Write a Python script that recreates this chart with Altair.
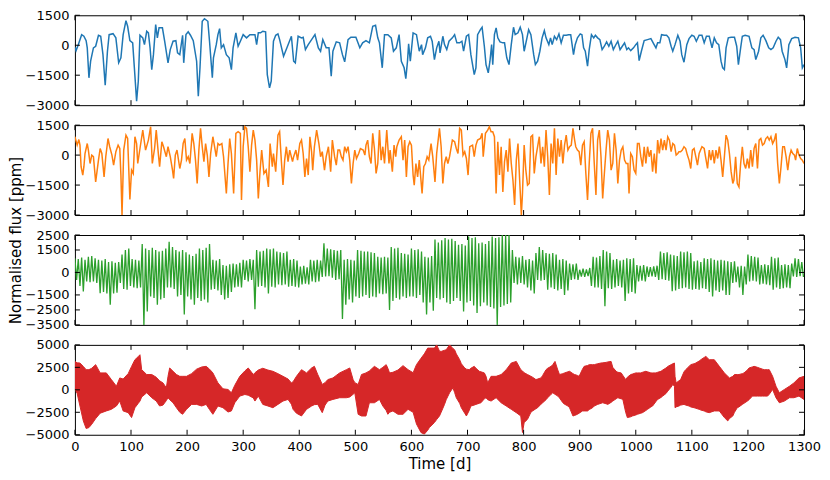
import altair as alt
import pandas as pd

# ---------------- data ----------------
t1 = [0,2,6,12,16,20,22,25,28,33,
      37,42,46,50,54,58,61,68,73,78,
      82,86,91,94,98,103,106,110,113,116,
      121,124,128,131,134,137,140,144,147,150,
      156,160,166,170,175,180,183,187,192,194,
      198,202,206,211,217,220,223,227,231,237,
      240,245,247,252,255,258,261,265,270,275,
      279,282,287,291,295,300,306,312,316,321,
      324,327,331,335,340,343,347,350,354,358,
      362,365,372,378,386,390,393,398,404,407,
      411,416,422,428,434,438,442,448,453,457,
      460,466,472,477,481,487,492,501,508,513,
      519,525,531,536,540,543,548,552,558,564,
      568,573,578,582,587,590,593,595,598,603,
      609,614,618,620,625,629,634,637,641,645,
      649,651,656,659,663,667,673,677,681,686,
      690,693,698,702,706,712,715,718,723,726,
      730,733,737,740,743,745,748,751,754,758,
      763,766,770,774,778,782,785,790,794,798,
      801,806,809,813,818,821,825,829,833,837,
      840,845,848,851,855,859,863,867,871,876,
      880,884,889,892,896,901,904,907,910,914,
      917,921,925,928,932,936,940,944,948,952,
      956,960,964,968,972,976,980,984,987,991,
      996,1000,1003,1006,1010,1015,1021,1027,1032,1036,
      1039,1043,1046,1051,1055,1059,1063,1066,1070,1075,
      1079,1082,1086,1091,1095,1100,1104,1108,1113,1118,
      1122,1126,1131,1136,1140,1144,1148,1152,1155,1158,
      1161,1165,1170,1176,1180,1183,1187,1190,1195,1202,
      1207,1211,1214,1219,1223,1227,1232,1237,1241,1245,
      1250,1254,1258,1261,1266,1269,1273,1278,1284,1290,
      1294,1297,1300]
v1 = [-100,-270,30,530,450,230,-130,-1630,-800,-130,
      -50,500,450,-470,-2000,-300,530,580,370,-880,
      -630,530,1230,950,230,120,-1130,-2800,-1800,500,
      370,30,700,620,-130,-1220,-470,1030,370,870,
      870,200,-880,-220,200,230,-380,-470,500,-880,
      530,670,500,230,-800,-2550,-1130,1200,1330,1200,
      200,-1630,-630,30,530,830,-130,30,-470,-630,
      -1220,-130,620,-50,200,530,370,530,530,530,
      30,620,620,700,670,-1470,-2130,-1800,200,500,
      570,280,-550,-130,450,-800,-880,450,370,400,
      -220,30,280,530,-130,-300,280,-130,-130,-1550,
      -300,170,120,-470,-830,280,400,400,-130,120,
      230,120,950,1000,370,120,-1130,530,530,370,
      -300,-130,530,-800,-1130,-1670,-800,70,-800,620,
      530,-300,30,-470,-130,370,450,200,-720,-130,
      200,-380,450,30,-220,200,370,530,120,120,
      200,-300,450,530,-470,-1470,-1130,530,780,900,
      -50,-970,-1380,-800,30,-970,530,870,370,170,
      120,120,-630,-970,30,900,530,620,900,530,
      -300,370,780,530,-470,-970,-800,-300,370,730,
      370,30,370,30,450,280,570,120,500,500,
      530,530,-470,30,370,570,530,-130,-300,-1050,
      -220,530,370,500,370,280,-220,-50,170,-50,
      200,-220,0,200,-220,-50,120,-220,-130,-270,
      -130,30,120,-770,-300,230,280,330,70,-130,
      120,120,530,500,500,370,-50,-300,30,500,
      200,-470,-850,30,330,500,450,200,500,500,
      120,450,450,-130,370,120,30,-800,-1130,-1220,
      -130,370,400,400,-50,-970,-130,450,500,450,
      -130,-220,-720,-300,370,500,230,-130,-220,-130,
      200,400,280,-300,-720,-1130,30,330,400,370,
      -130,-1130,-970]

t2 = [0,4,7,9,11,14,16,18,22,24,
      27,30,33,37,42,45,48,52,55,59,
      62,66,69,73,77,80,82,84,87,91,
      94,98,101,104,107,110,112,116,121,123,
      126,131,135,138,142,145,149,151,155,158,
      163,166,170,174,176,179,182,187,190,193,
      196,199,202,205,209,212,215,218,221,224,
      227,230,233,236,239,242,246,249,252,255,
      258,262,265,270,273,276,279,283,287,291,
      295,297,300,303,306,309,312,315,318,321,
      324,327,330,333,337,341,345,348,352,354,
      358,362,365,368,371,374,377,380,383,388,
      390,394,397,401,404,407,410,413,416,419,
      422,424,427,431,435,438,441,445,448,452,
      456,459,463,466,469,472,475,478,481,484,
      487,490,493,496,499,502,506,509,514,517,
      519,522,525,528,531,534,537,540,543,546,
      549,552,556,560,562,566,569,572,574,578,
      582,585,588,591,594,597,600,603,605,608,
      611,614,619,622,625,628,631,635,638,642,
      645,650,653,656,659,662,665,668,673,677,
      680,683,686,689,692,695,698,701,704,709,
      712,715,718,723,726,728,732,736,739,742,
      745,748,751,754,757,760,763,766,769,772,
      775,778,781,784,787,790,793,796,798,801,
      804,807,810,813,816,819,822,825,828,831,
      834,837,840,843,846,849,852,855,858,861,
      864,867,870,873,876,879,882,885,888,891,
      893,896,899,902,905,908,911,914,917,920,
      923,926,929,932,935,938,941,944,947,950,
      953,956,959,962,965,968,971,974,977,980,
      983,986,988,991,994,997,1000,1003,1006,1009,
      1012,1015,1018,1021,1024,1027,1030,1033,1036,1039,
      1042,1045,1048,1051,1054,1057,1060,1063,1066,1069,
      1072,1075,1077,1080,1083,1086,1089,1092,1095,1098,
      1101,1104,1107,1110,1113,1118,1122,1125,1128,1131,
      1134,1137,1140,1143,1146,1149,1152,1155,1158,1161,
      1164,1167,1170,1173,1175,1178,1181,1184,1187,1190,
      1193,1196,1199,1202,1205,1208,1211,1214,1217,1220,
      1223,1226,1229,1232,1235,1238,1241,1244,1247,1250,
      1253,1256,1259,1262,1265,1268,1271,1274,1277,1280,
      1283,1285,1288,1291,1294,1297,1300]
v2 = [920,500,780,500,-580,-1000,-580,80,580,250,
      -420,0,-80,-1340,-250,330,80,-1090,-80,830,
      420,0,-500,170,500,330,-1000,-3000,250,1000,
      830,-2220,-750,-920,920,580,-420,330,1250,830,
      250,750,1420,-420,330,1250,0,-580,670,420,
      -80,420,-80,-750,-1170,0,250,-670,-250,580,
      830,-250,-80,-420,1090,580,-250,-1420,250,1340,
      420,-330,580,0,-1090,80,920,420,-80,580,
      500,580,-80,-1920,-420,830,80,-1920,1090,1170,
      1090,-2250,420,1420,1340,420,-830,500,1250,750,
      -250,-2170,-830,250,-920,-750,-1590,580,-580,80,
      -830,1000,1170,-250,-1500,-250,420,-330,250,-330,
      -80,250,-250,580,750,80,-1090,-170,-1000,920,
      170,-750,420,1250,580,-80,170,-750,-80,420,
      -830,750,-80,-500,250,250,-80,-250,420,170,
      420,-250,-1420,-420,250,-170,80,330,250,0,
      500,750,-80,-420,1090,330,-920,-420,1250,-250,
      420,-420,1250,-420,250,-830,500,-80,420,750,
      920,-250,750,-1090,420,670,500,-1000,-1500,-420,
      -1090,-250,-1920,-580,-420,-80,-250,580,-80,-1340,
      80,1340,420,-1420,-420,-80,-420,-80,750,670,
      330,80,1340,1250,0,170,-170,-1000,420,500,
      -80,500,750,830,1090,-80,1090,1250,1420,1170,
      1170,920,-1920,670,-1000,420,-1840,-330,250,-830,
      830,-420,-1250,-2500,-250,580,-1250,-3000,-1920,500,
      -750,-1500,-1420,920,1000,-920,-80,420,920,-420,
      420,-580,1250,-80,-2000,580,-420,1340,-1000,830,
      -80,750,-420,500,1000,250,420,500,1340,750,
      420,250,170,-500,500,670,-920,-2250,-420,1090,
      1340,-420,-2000,750,1250,-80,-2170,-920,250,1250,
      750,-750,-420,1090,250,-1420,-250,250,420,-250,
      -420,-420,-1920,80,-80,-750,-920,580,580,-80,
      -580,420,-420,420,-80,250,-830,80,-920,750,
      80,830,250,750,250,920,750,170,580,500,
      0,80,170,170,250,420,330,0,-250,-670,
      250,330,-80,-500,80,420,330,-170,-670,250,
      -250,250,-420,250,-170,420,-250,-1090,-80,1000,
      750,80,-830,-1420,-1250,-80,-1420,-1590,-420,420,
      -420,-670,-170,-670,250,-580,330,580,-670,750,
      830,500,580,830,920,750,920,580,750,1090,
      -420,-1420,-580,420,420,-80,-750,-80,250,80,
      0,-250,330,0,-170,-250,-420]

# panel 3: successive maxima (every 6 d, from day 0) and minima (3 d later)
peaks3 = [950,900,1000,850, 1050,1100,950, 850,800,900, 700,750,650,700, 1200,1500,1600,
          900,850,800, 1900,1600,1500,1650, 1500,1400,1450, 1600,2050,1700, 1500,1400,1500,1350,
          1200,1100,1250, 1600,1500,1650,1900, 850,800,900, 500,450,550, 600,550,650,850,
          800,900,850, 1500,1400,1450, 1600,1550,1600, 1400,1350,1300,1400, 850,900,800,
          400,450,350, 850,800,850,800, 1950,1600,1550, 1500,1450,1500, 850,900,850,800,
          1500,1450,1400, 1400,1350,1300, 1050,1000,1050,1000, 1700,1600,1650, 1300,1250,1200,
          1600,1500,1550,1400, 1050,1000,1100, 2200,2000,2150, 2300,2200,2250,2100, 1850,1900,1800,
          2400,2300,2350, 1950,2000,1900,2100, 2400,2300,2350, 2500,2500,2500, 1500,1050,1000,1100,
          850,900,800, 1300,1700,1500, 1300,1250,1300,1200, 850,900,800, 600,550,600,
          180,250,200,300, 1050,1000,1100, 1500,1400,1300, 850,900,800,850, 950,900,950,
          500,450,500, 400,350,400,450, 1400,1300,1350, 1200,1150,1100, 1400,1350,1400,1300,
          750,800,700, 950,900,950, 850,800,850,800, 750,700,750, 400,450,400,
          1200,1100,1050,1000, 500,550,500, 1050,950,1000, 500,550,500,600, 950,900,700]
troughs3 = [-500,-900,-1270, -600,-650,-600,-700, -1380,-1300,-1400, -2150,-1400,-1350,
            -700,-1100,-1150,-900, -1000,-1050,-1000, -3500,-2600,-1600, -1700,-2150,-1800,-1700,
            -1000,-1000,-1100, -1600,-1500,-2800, -1600,-1800,-2150,-1700, -1900,-1800,-2000,
            -1150,-1100,-1200, -1500,-1800,-1700,-1300, -1000,-950,-1000, -500,-600,-500,
            -2450,-950,-900,-1000, -1400,-950,-1000, -800,-850,-800, -950,-900,-950,-1000,
            -800,-750,-800, -600,-650,-600, -300,-270,-250,-350, -500,-450,-3100,
            -2150,-1800,-2000, -1600,-1700,-1600,-1500, -1700,-1600,-1650, -1400,-1450,-1400,
            -2500,-1900,-1700,-1800, -1600,-1700,-1600, -1600,-1700,-1500, -2000,-2800,-2000,-2550,
            -1700,-1800,-1700, -2000,-2100,-1900, -1700,-1900,-2600,-2000, -1900,-2200,-2700,
            -2250,-2000,-2200, -2300,-2400,-3500,-2300, -2200,-2100,-2000, -700,-800,-700,
            -800,-1000,-1200,-1400, -500,-550,-500, -1150,-1000,-1100, -1200,-1100,-1500,-1200,
            -500,-450,-500, -270,-300,-250, -900,-1000,-1000,-1100, -2250,-1050,-1100,
            -1000,-900,-1000, -1900,-1400,-1300,-1400, -600,-550,-600, -300,-270,-300,
            -500,-450,-500,-550, -1250,-1200,-1100, -1050,-1000,-1100, -1150,-1100,-1150,-1050,
            -1100,-1300,-1600, -1200,-1300,-1200, -1500,-1500,-700,-650, -1000,-1500,-800,
            -600,-550,-600, -800,-750,-800,-850, -1150,-1000,-1100, -1050,-1000,-1050,
            -270,-300,-250,-300]

# panel 4: upper and lower envelope of the rapid oscillation
t4 = [0,4,9,15,20,25,30,37,45,56,
      65,74,80,86,95,101,107,113,116,119,
      128,137,145,151,157,163,166,169,175,181,
      187,192,199,208,217,226,234,240,246,255,
      264,273,279,285,294,303,309,318,321,327,
      335,344,353,362,371,380,386,389,395,404,
      413,422,427,433,441,446,451,460,472,484,
      490,496,499,505,511,519,525,534,543,549,
      555,558,561,567,576,585,594,603,609,617,
      623,629,632,641,645,650,653,659,662,668,
      674,677,680,686,689,695,698,703,706,712,
      715,721,724,730,733,736,742,751,760,769,
      778,787,795,798,801,807,813,816,822,825,
      831,834,840,843,849,852,856,861,864,870,
      873,879,882,888,891,896,899,905,908,914,
      917,923,926,932,938,941,947,950,956,959,
      965,968,974,977,982,985,991,994,1000,1003,
      1009,1012,1018,1021,1027,1030,1036,1039,1045,1048,
      1054,1057,1063,1066,1069,1070,1072,1077,1080,1086,
      1089,1095,1098,1104,1107,1113,1116,1122,1125,1131,
      1140,1149,1158,1164,1167,1173,1176,1181,1184,1190,
      1193,1199,1202,1208,1211,1217,1220,1226,1229,1235,
      1238,1244,1250,1256,1265,1274,1282,1291,1300]
hi4 = [3150,3000,2980,2600,2240,2240,2400,2800,1880,1880,
       1140,400,1320,1200,1800,2600,3350,3700,3900,2240,
       1700,1700,1400,1000,770,220,1500,2430,2060,1700,
       1500,1500,1500,1800,2300,2540,2610,2300,1880,770,
       110,40,-330,500,1500,2100,2430,1700,1900,2200,
       2400,2200,2060,1800,1500,1200,770,900,1500,2240,
       1880,2430,2610,1700,600,800,1140,1320,1880,2240,
       2430,1140,800,590,1700,1880,2100,2610,2240,2500,
       2800,2400,1880,1950,2200,2690,2240,1900,2800,3500,
       4000,4640,4640,4640,5000,4300,4270,4400,4450,5000,
       4600,4450,4000,3350,2900,2430,2300,2240,2400,2610,
       2400,2060,2000,1880,1500,770,1500,1500,1700,2240,
       2980,3160,2240,2100,1900,1700,1500,1400,1140,1200,
       1320,1600,2240,2400,2610,2800,3160,2200,1700,1800,
       1880,2000,2060,1800,1700,1600,1500,2300,2610,2700,
       2800,2800,2800,2900,2980,3000,3050,3100,3160,2500,
       2060,1950,1880,1600,1140,1400,1700,1750,1880,1880,
       1880,1950,2060,2000,1880,1880,1880,1950,2060,2200,
       2430,2600,2800,2900,2980,1500,770,1000,1140,2000,
       2240,2600,2800,2900,2980,3200,3350,3600,3720,3350,
       3350,2610,1880,1500,1320,1500,1700,1700,1700,1800,
       1880,2200,2430,2550,2610,2500,2430,2300,2240,2240,
       2240,1500,400,-330,40,400,770,1320,1500]
lo4 = [100,-400,-1800,-3460,-4300,-4200,-3830,-3200,-2600,-2350,
       -2170,-1800,-1250,-2350,-2540,-3090,-1990,-1500,-1250,-800,
       -330,-880,-1250,-1800,-1700,-1200,-880,-1100,-1440,-1990,
       -2500,-2720,-2170,-1620,-1620,-1800,-1620,-2200,-2720,-1800,
       -1990,-2470,-2350,-1440,-700,-520,-600,-900,-1250,-700,
       -1620,-1800,-1990,-1620,-1250,-1070,-1600,-2170,-2600,-2910,
       -2170,-1800,-1650,-1620,-2540,-1700,-1250,-1070,-880,-880,
       -800,-500,-330,-2720,-2910,-2910,-1440,-1440,-1070,-1800,
       -2300,-2720,-2500,-2350,-2720,-2720,-2170,-2500,-3800,-4750,
       -4930,-4500,-4200,-3640,-3300,-2910,-2500,-1620,-1100,-330,
       220,-300,-880,-1500,-1990,-2600,-2910,-2300,-1800,-1700,
       -1620,-1500,-1440,-1000,-880,-1100,-1250,-880,-1440,-1800,
       -2170,-2540,-2910,-4750,-3640,-3280,-2500,-2350,-2100,-1990,
       -1600,-1440,-1100,-880,-500,-330,-500,-700,-900,-1440,
       -1600,-1800,-2000,-2910,-2850,-2720,-2600,-2350,-2350,-2350,
       -2200,-1990,-1800,-1620,-1500,-1440,-1550,-1620,-1400,-1250,
       -1000,-880,-1000,-1070,-2500,-3090,-3000,-2910,-2800,-2720,
       -2600,-2540,-2300,-2170,-1900,-1800,-1300,-1070,-850,-700,
       -400,-150,300,590,400,-1990,-1900,-1800,-1700,-1620,
       -1700,-1800,-1900,-1990,-2050,-2170,-2250,-2350,-2450,-2540,
       -2350,-2350,-3090,-3460,-3200,-2910,-2500,-1990,-1900,-1620,
       -1500,-1250,-1100,-700,-700,-700,-700,-700,-700,-700,
       -500,40,-880,-1440,-1250,-880,-880,-700,-1070]

x_ticks = [0,100,200,300,400,500,600,700,800,900,1000,1100,1200,1300]
y_ticks_12 = [1500,0,-1500,-3000]
y_ticks_3 = [2500,1500,0,-1500,-2500,-3500]
y_ticks_4 = [5000,2500,0,-2500,-5000]

BLUE, ORANGE, GREEN, RED = "#1f77b4", "#ff7f0e", "#2ca02c", "#d62728"
W, H, TK = 730, 90, 5
FONT = "DejaVu Sans"

# ---------------- helpers ----------------
def make_axes(yticks, ytitle, bottom):
    yargs = dict(values=yticks, ticks=False, tickSize=0, domain=False, grid=False,
                 labelFontSize=13, labelPadding=6, labelColor="black", labelFont=FONT,
                 labelFlush=False, labelOverlap=False, format="d", title=None)
    if ytitle:
        yargs.update(title="Normalised flux [ppm]", titleFontSize=15, titleFont=FONT,
                     titleFontWeight="normal", titleColor="black", titleAngle=270,
                     titleAlign="center", titleBaseline="middle", titleX=-59, titleY=115)
    yaxis = alt.Axis(**yargs)
    if bottom:
        xaxis = alt.Axis(values=x_ticks, ticks=False, tickSize=0, domain=False, grid=False,
                         labelFontSize=13, labelPadding=6, labelColor="black", labelFont=FONT,
                         labelFlush=False, labelOverlap=False, format="d",
                         title="Time [d]", titleFontSize=15, titleFont=FONT,
                         titleFontWeight="normal", titleColor="black", titlePadding=3)
    else:
        xaxis = None
    return xaxis, yaxis


def panel(main, ydomain, yticks, ytitle=False, bottom=False):
    xs = alt.Scale(domain=[0, 1300], nice=False, zero=False)
    ys = alt.Scale(domain=ydomain, nice=False, zero=False)
    xaxis, yaxis = make_axes(yticks, ytitle, bottom)
    X = lambda f: alt.X(f, scale=xs, axis=xaxis)
    Y = lambda f: alt.Y(f, scale=ys, axis=yaxis)
    layers = main(X, Y)
    xt = pd.DataFrame({"t": x_ticks})
    yt = pd.DataFrame({"v": yticks})
    tick = dict(color="black", strokeWidth=1)
    layers += [
        alt.Chart(xt).mark_rule(**tick).encode(x=X("t:Q"), y=alt.value(0), y2=alt.value(TK)),
        alt.Chart(xt).mark_rule(**tick).encode(x=X("t:Q"), y=alt.value(H - TK), y2=alt.value(H)),
        alt.Chart(yt).mark_rule(**tick).encode(y=Y("v:Q"), x=alt.value(0), x2=alt.value(TK)),
        alt.Chart(yt).mark_rule(**tick).encode(y=Y("v:Q"), x=alt.value(W - TK), x2=alt.value(W)),
    ]
    return alt.layer(*layers).properties(width=W, height=H)


def line_main(t, v, color, width=1.5):
    df = pd.DataFrame({"t": t, "v": v})
    def f(X, Y):
        return [alt.Chart(df).mark_line(color=color, strokeWidth=width, clip=True)
                .encode(x=X("t:Q"), y=Y("v:Q"))]
    return f


# panel 3 series: alternate maxima and minima
t3, v3 = [], []
for i, (p, q) in enumerate(zip(peaks3, troughs3)):
    t3 += [6 * i, 6 * i + 3]
    v3 += [p, q]

df4 = pd.DataFrame({"t": t4, "hi": hi4, "lo": lo4})
def area_main(X, Y):
    return [alt.Chart(df4).mark_area(color=RED, stroke=RED, strokeWidth=1, clip=True)
            .encode(x=X("t:Q"), y=Y("hi:Q"), y2="lo:Q")]

p1 = panel(line_main(t1, v1, BLUE), [-3000, 1500], y_ticks_12)
p2 = panel(line_main(t2, v2, ORANGE), [-3000, 1500], y_ticks_12, ytitle=True)
p3 = panel(line_main(t3, v3, GREEN, 1.3), [-3500, 2500], y_ticks_3)
p4 = panel(area_main, [-5000, 5000], y_ticks_4, bottom=True)

chart = (alt.vconcat(p1, p2, p3, p4, spacing=20, bounds="flush")
         .properties(padding={"left": 0, "top": 0, "right": 0, "bottom": 0})
         .configure(font=FONT)
         .configure_view(stroke="black", strokeWidth=1))

chart.save("out.html", embed_options={"renderer": "svg", "actions": False})
